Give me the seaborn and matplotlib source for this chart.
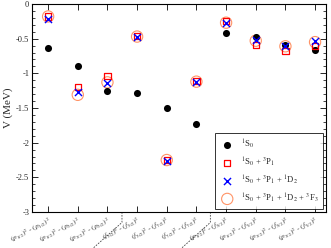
import numpy as np
import pandas as pd
import matplotlib
matplotlib.use("Agg")
import matplotlib.pyplot as plt
import matplotlib.transforms as mtransforms
from matplotlib.ticker import MultipleLocator, FuncFormatter
import seaborn as sns

# === DATA ===
PAIRS = [
    r"$(p_{1/2})^2$ - $(p_{1/2})^2$",
    r"$(p_{1/2})^2$ - $(p_{3/2})^2$",
    r"$(p_{3/2})^2$ - $(p_{3/2})^2$",
    r"$(f_{5/2})^2$ - $(f_{5/2})^2$",
    r"$(f_{5/2})^2$ - $(f_{7/2})^2$",
    r"$(f_{7/2})^2$ - $(f_{7/2})^2$",
    r"$(p_{1/2})^2$ - $(f_{5/2})^2$",
    r"$(p_{1/2})^2$ - $(f_{7/2})^2$",
    r"$(p_{3/2})^2$ - $(f_{5/2})^2$",
    r"$(p_{3/2})^2$ - $(f_{7/2})^2$",
]
V_S0 = [-0.63, -0.89, -1.25, -1.29, -1.50, -1.73, -0.42, -0.48, -0.59, -0.67]
V_S0_P1 = [-0.18, -1.20, -1.04, -0.46, -2.25, -1.11, -0.25, -0.59, -0.68, -0.61]
V_S0_P1_D2 = [-0.22, -1.27, -1.14, -0.48, -2.26, -1.13, -0.27, -0.52, -0.60, -0.54]
V_ALL = [-0.18, -1.31, -1.13, -0.47, -2.25, -1.12, -0.27, -0.53, -0.61, -0.55]

LABELS = [
    r"$^1$S$_0$",
    r"$^1$S$_0$ + $^3$P$_1$",
    r"$^1$S$_0$ + $^3$P$_1$ + $^1$D$_2$",
    r"$^1$S$_0$ + $^3$P$_1$ + $^1$D$_2$ + $^3$F$_3$",
]

# === STYLE ===
sns.set_theme(style="ticks")
plt.rcParams["font.family"] = ["Liberation Serif", "DejaVu Serif"]
plt.rcParams["mathtext.fontset"] = "stix"

fig = plt.figure(figsize=(3.31, 2.48), dpi=100)
ax = fig.add_axes([0.097, 0.145, 0.888, 0.839])

x = np.arange(len(PAIRS))
df = pd.DataFrame({"x": x, "s0": V_S0, "s0p1": V_S0_P1, "s0p1d2": V_S0_P1_D2, "all": V_ALL})

sns.scatterplot(data=df, x="x", y="s0", ax=ax, marker="o", color="black",
                s=26, linewidth=0, label=LABELS[0], zorder=3)
sns.scatterplot(data=df, x="x", y="s0p1", ax=ax, marker="s", facecolor="none",
                edgecolor="red", s=20, linewidth=0.9, label=LABELS[1], zorder=4)
sns.scatterplot(data=df, x="x", y="s0p1d2", ax=ax, marker="x", color="blue",
                s=26, linewidth=1.0, label=LABELS[2], zorder=5)
sns.scatterplot(data=df, x="x", y="all", ax=ax, marker="o", facecolor="none",
                edgecolor="#ff9366", s=66, linewidth=0.8, label=LABELS[3], zorder=2)

ax.set_xlim(-0.54, 9.37)
ax.set_ylim(-3, 0)
ax.set_xlabel("")
ax.set_ylabel("V (MeV)", fontsize=8, labelpad=2)

ax.set_xticks(x)
ax.set_xticklabels(PAIRS, rotation=27, ha="right", rotation_mode="anchor",
                   fontsize=5.3, color="#333333")
ax.yaxis.set_major_locator(MultipleLocator(0.5))
ax.yaxis.set_minor_locator(MultipleLocator(0.1))
ax.yaxis.set_major_formatter(FuncFormatter(lambda v, p: f"{v:g}" if abs(v) > 1e-9 else "0"))
ax.tick_params(axis="y", which="major", labelsize=6)
ax.tick_params(axis="both", which="major", direction="in", length=4, width=0.7,
               top=True, right=True, pad=2)
ax.tick_params(axis="y", which="minor", direction="in", length=2, width=0.6,
               left=True, right=True)
ax.tick_params(axis="x", which="major", pad=2)
for sp in ax.spines.values():
    sp.set_linewidth(0.8)
    sp.set_color("black")
    sp.set_visible(True)

# dashed leader lines below the axis
trans = mtransforms.blended_transform_factory(ax.transData, ax.transAxes)
for xs in (2.49, 5.47):
    ax.plot([xs, xs, xs - 1.1], [0, -0.05, -0.19], transform=trans, ls="--",
            lw=0.6, color="#444444", clip_on=False, dashes=(2, 1.5))

leg = ax.legend(loc="lower right", fontsize=6.2, frameon=True, fancybox=False,
                edgecolor="black", borderpad=0.45, labelspacing=0.55,
                handletextpad=0.6, borderaxespad=0.4, markerscale=1.0)
leg.get_frame().set_linewidth(0.7)

fig.savefig("out.png", dpi=100)
